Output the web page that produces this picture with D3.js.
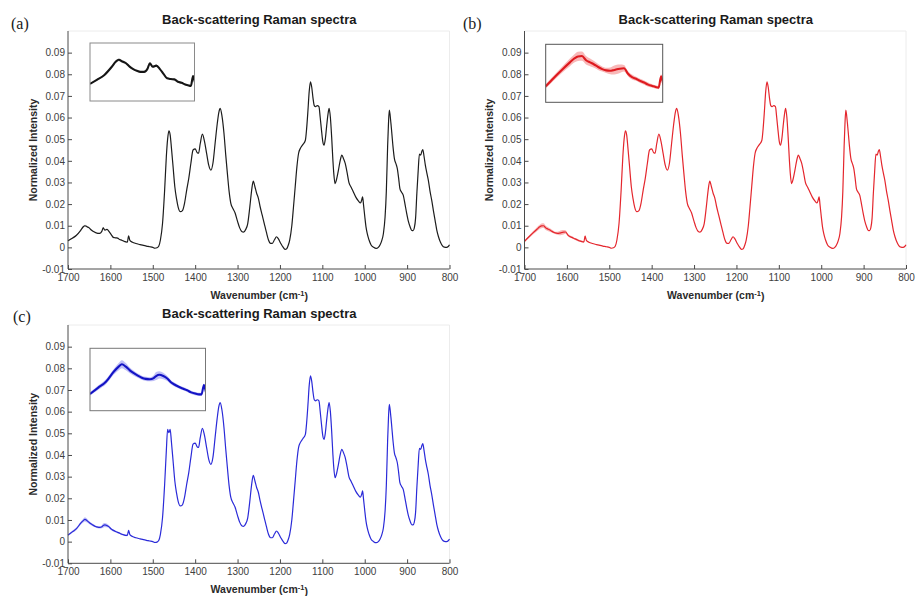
<!DOCTYPE html>
<html>
<head>
<meta charset="utf-8">
<script src="https://cdn.jsdelivr.net/npm/d3@7"></script>
<style>
  html, body { margin: 0; padding: 0; background: #fff; }
  svg { display: block; }
</style>
</head>
<body>
<svg id="chart" width="916" height="596"></svg>
<script>
// ---------------- DATA ----------------
const xTicks = [1700, 1600, 1500, 1400, 1300, 1200, 1100, 1000, 900, 800];
const yTicks = [-0.01, 0, 0.01, 0.02, 0.03, 0.04, 0.05, 0.06, 0.07, 0.08, 0.09];
const yTickLabels = ["-0.01", "0", "0.01", "0.02", "0.03", "0.04", "0.05", "0.06", "0.07", "0.08", "0.09"];
const panelLabels = ["(a)", "(b)", "(c)"];
const titleText = "Back-scattering Raman spectra";

// Low-wavenumber region (shown in the insets) — mean and std per sample
const lowWn = [1700,1690,1680,1670,1664,1660,1655,1650,1645,1640,1635,1630,1625,1620,1617,1613,1608,1603,1598,1593,1588,1583,1578,1573,1568,1563,1560,1557];
const lowA  = [0.0030,0.0042,0.0056,0.0079,0.0095,0.0100,0.0095,0.0090,0.0080,0.0073,0.0068,0.0065,0.0065,0.0075,0.0090,0.0080,0.0083,0.0073,0.0059,0.0046,0.0044,0.0043,0.0036,0.0033,0.0028,0.0025,0.0024,0.0053];
const lowB  = [0.0028,0.0048,0.0067,0.0085,0.0095,0.0099,0.0100,0.0090,0.0085,0.0080,0.0074,0.0069,0.0066,0.0065,0.0066,0.0068,0.0070,0.0071,0.0058,0.0050,0.0046,0.0041,0.0037,0.0032,0.0029,0.0026,0.0025,0.0052];
const lowC  = [0.0030,0.0045,0.0060,0.0085,0.0097,0.0103,0.0097,0.0088,0.0081,0.0075,0.0070,0.0067,0.0066,0.0069,0.0074,0.0077,0.0074,0.0068,0.0058,0.0052,0.0047,0.0043,0.0039,0.0034,0.0031,0.0029,0.0029,0.0052];
const sdA   = [0.0002,0.0002,0.0002,0.0003,0.0004,0.0004,0.0004,0.0003,0.0003,0.0002,0.0002,0.0002,0.0002,0.0003,0.0004,0.0003,0.0003,0.0002,0.0002,0.0002,0.0002,0.0002,0.0002,0.0002,0.0002,0.0002,0.0002,0.0002];
const sdB   = [0.0005,0.0006,0.0007,0.0009,0.0010,0.0011,0.0011,0.0010,0.0009,0.0008,0.0007,0.0006,0.0006,0.0008,0.0010,0.0011,0.0010,0.0008,0.0006,0.0006,0.0005,0.0005,0.0005,0.0005,0.0004,0.0004,0.0004,0.0005];
const sdC   = [0.0004,0.0005,0.0006,0.0007,0.0009,0.0010,0.0009,0.0007,0.0006,0.0005,0.0005,0.0005,0.0005,0.0007,0.0010,0.0009,0.0008,0.0006,0.0005,0.0005,0.0004,0.0004,0.0004,0.0004,0.0004,0.0004,0.0004,0.0004];

// Rest of the spectrum [wavenumber, normalized intensity] (mean spectrum, panels a & b)
const spectrumHigh = [
 [1554,0.0032],[1548,0.0024],[1540,0.0018],[1530,0.0013],[1522,0.0009],[1515,0.0006],[1507,0.0003],[1500,0.0000],
 [1495,-0.0004],[1490,-0.0002],[1486,0.0005],[1482,0.0034],[1477,0.0110],[1472,0.0265],[1468,0.0420],[1465,0.0500],
 [1462,0.0538],[1459,0.0520],[1456,0.0460],[1452,0.0370],[1448,0.0280],[1444,0.0225],[1440,0.0185],[1435,0.0165],
 [1430,0.0170],[1425,0.0205],[1420,0.0265],[1415,0.0320],[1410,0.0390],[1405,0.0450],[1400,0.0455],[1395,0.0437],
 [1392,0.0435],[1388,0.0480],[1383,0.0523],[1378,0.0490],[1373,0.0434],[1368,0.0380],[1363,0.0357],[1358,0.0390],
 [1353,0.0480],[1348,0.0570],[1344,0.0625],[1341,0.0642],[1337,0.0610],[1332,0.0526],[1328,0.0430],[1324,0.0342],
 [1320,0.0260],[1316,0.0205],[1311,0.0180],[1306,0.0160],[1300,0.0120],[1295,0.0090],[1290,0.0073],[1286,0.0070],
 [1281,0.0082],[1276,0.0110],[1271,0.0188],[1267,0.0260],[1263,0.0306],[1259,0.0280],[1255,0.0250],[1251,0.0228],
 [1247,0.0190],[1242,0.0150],[1237,0.0110],[1232,0.0070],[1227,0.0034],[1222,0.0018],[1218,0.0018],[1213,0.0035],
 [1208,0.0049],[1204,0.0040],[1198,0.0018],[1193,0.0002],[1188,-0.0009],[1184,-0.0006],[1180,0.0012],[1177,0.0034],
 [1172,0.0100],[1168,0.0188],[1164,0.0280],[1160,0.0372],[1156,0.0435],[1152,0.0457],[1146,0.0475],[1140,0.0495],
 [1137,0.0550],[1134,0.0630],[1131,0.0720],[1128,0.0765],[1125,0.0740],[1122,0.0690],[1119,0.0655],[1116,0.0650],
 [1112,0.0655],[1108,0.0650],[1105,0.0600],[1102,0.0542],[1099,0.0490],[1096,0.0472],[1093,0.0500],[1090,0.0557],
 [1087,0.0610],[1084,0.0642],[1081,0.0600],[1078,0.0510],[1075,0.0400],[1073,0.0342],[1070,0.0295],[1067,0.0310],
 [1062,0.0357],[1058,0.0400],[1054,0.0426],[1050,0.0410],[1046,0.0388],[1042,0.0350],[1037,0.0298],[1032,0.0278],
 [1027,0.0257],[1021,0.0232],[1015,0.0215],[1010,0.0205],[1007,0.0220],[1005,0.0234],[1003,0.0200],[1000,0.0145],
 [997,0.0095],[994,0.0063],[990,0.0035],[985,0.0011],[979,0.0000],[973,-0.0005],[968,0.0000],[964,0.0011],
 [960,0.0030],[956,0.0063],[952,0.0140],[949,0.0260],[946,0.0465],[944,0.0570],[942,0.0634],[939,0.0590],
 [936,0.0526],[933,0.0460],[930,0.0410],[926,0.0385],[923,0.0363],[920,0.0320],[917,0.0272],[913,0.0255],
 [909,0.0240],[905,0.0200],[901,0.0157],[897,0.0120],[893,0.0095],[889,0.0078],[886,0.0077],[883,0.0090],
 [880,0.0135],[877,0.0250],[874,0.0350],[871,0.0431],[868,0.0426],[865,0.0445],[863,0.0452],[860,0.0420],
 [857,0.0380],[853,0.0340],[850,0.0311],[846,0.0260],[842,0.0218],[838,0.0170],[834,0.0125],[830,0.0080],
 [826,0.0049],[821,0.0022],[817,0.0008],[812,0.0001],[807,0.0000],[803,0.0004],[800,0.0012]
];
// Panel (c): the 1460 band top reads as a split peak
const peak1460C = [[1465,0.0518],[1462,0.0503],[1459,0.0518]];

// ---------------- LAYOUT ----------------
const svg = d3.select("#chart");
const FONT = "'Liberation Sans', Arial, Helvetica, sans-serif";

const panels = [
  { label: panelLabels[0], low: lowA, sd: sdA, override: [],
    left: 68, right: 449.5, top: 31, bottom: 269,
    labelPos: [11, 29], titleY: 24,
    inset: { x0: 90, x1: 194.5, y0: 43, y1: 101, yDomain: [-0.002, 0.0149] },
    line: "#1c1c1c", insetLine: "#151515", band: "#9a9a9a", bandOpacity: 0.5, insetBorder: "#8a8a8a" },
  { label: panelLabels[1], low: lowB, sd: sdB, override: [],
    left: 524.5, right: 906, top: 31, bottom: 269,
    labelPos: [463, 29], titleY: 24,
    inset: { x0: 545.7, x1: 662.7, y0: 44.3, y1: 102.3, yDomain: [-0.001, 0.0128] },
    line: "#e4262d", insetLine: "#de1a1f", band: "#f59a9a", bandOpacity: 0.7, insetBorder: "#555" },
  { label: panelLabels[2], low: lowC, sd: sdC, override: peak1460C,
    left: 68, right: 449.5, top: 325, bottom: 563.3,
    labelPos: [13, 322], titleY: 318,
    inset: { x0: 90, x1: 205.5, y0: 348.3, y1: 410.7, yDomain: [-0.0011, 0.0142] },
    line: "#2a2ad8", insetLine: "#1313c4", band: "#a4a4f4", bandOpacity: 0.7, insetBorder: "#777" }
];

panels.forEach((p, pi) => {
  const g = svg.append("g");
  const x = d3.scaleLinear().domain([1700, 800]).range([p.left, p.right]);
  const y = d3.scaleLinear().domain([-0.01, 0.1]).range([p.bottom, p.top]);

  const lowPts = lowWn.map((w, i) => ({ w, v: p.low[i], sd: p.sd[i] }));
  const ov = new Map(p.override.map(d => [d[0], d[1]]));
  const highPts = spectrumHigh.map(d => ({ w: d[0], v: ov.has(d[0]) ? ov.get(d[0]) : d[1], sd: 0 }));
  const all = lowPts.concat(highPts);

  g.append("path")
    .attr("d", `M${p.left},${p.top}H${p.right}V${p.bottom}`)
    .attr("fill", "none").attr("stroke", "#ececec").attr("stroke-width", 1);

  const area = d3.area().curve(d3.curveMonotoneX)
    .x(d => x(d.w)).y0(d => y(d.v - d.sd)).y1(d => y(d.v + d.sd));
  g.append("path").datum(lowPts.concat(highPts.slice(0, 1)))
    .attr("d", area).attr("fill", p.band).attr("opacity", p.bandOpacity);

  const line = d3.line().curve(d3.curveMonotoneX).x(d => x(d.w)).y(d => y(d.v));
  g.append("path").datum(all).attr("d", line)
    .attr("fill", "none").attr("stroke", p.line).attr("stroke-width", 1.2)
    .attr("stroke-linejoin", "round");

  const xAxis = d3.axisBottom(x).tickValues(xTicks).tickFormat(d3.format("d"))
    .tickSizeInner(-4).tickSizeOuter(0).tickPadding(5);
  const gx = g.append("g").attr("transform", `translate(0,${p.bottom})`).call(xAxis);
  const yAxis = d3.axisLeft(y).tickValues(yTicks).tickFormat((d, i) => yTickLabels[i])
    .tickSizeInner(-4).tickSizeOuter(0).tickPadding(3);
  const gy = g.append("g").attr("transform", `translate(${p.left},0)`).call(yAxis);
  [gx, gy].forEach(ax => {
    ax.select(".domain").attr("stroke", "#4a4a4a").attr("stroke-width", 1);
    ax.selectAll(".tick line").attr("stroke", "#4a4a4a");
    ax.selectAll(".tick text").attr("fill", "#404040").style("font-family", FONT).style("font-size", "10px");
  });
  gy.select(".domain").attr("d", `M0,${p.bottom}V${p.top}`);
  gx.select(".domain").attr("d", `M${p.left},0H${p.right}`);

  const cx = (p.left + p.right) / 2 + 0.5;
  g.append("text").attr("x", cx).attr("y", p.titleY).attr("text-anchor", "middle")
    .style("font-family", FONT).style("font-weight", "bold").style("font-size", "13px")
    .attr("fill", "#1a1a1a").text(titleText);
  g.append("text").attr("x", p.labelPos[0]).attr("y", p.labelPos[1])
    .style("font-family", "'Liberation Serif', 'Times New Roman', serif").style("font-size", "16px")
    .attr("fill", "#1a1a1a").text(p.label);
  const xl = g.append("text").attr("x", cx).attr("y", p.bottom + 30).attr("text-anchor", "middle")
    .style("font-family", FONT).style("font-weight", "bold").style("font-size", "10.5px").attr("fill", "#2a2a2a");
  xl.append("tspan").text("Wavenumber (cm");
  xl.append("tspan").attr("dy", "-0.45em").style("font-size", "7.5px").text("-1");
  xl.append("tspan").attr("dy", "0.45em").text(")");
  g.append("text")
    .attr("transform", `translate(${p.left - 35},${(p.top + p.bottom) / 2}) rotate(-90)`)
    .attr("text-anchor", "middle").attr("dy", "0.35em")
    .style("font-family", FONT).style("font-weight", "bold").style("font-size", "10.5px").attr("fill", "#2a2a2a")
    .text("Normalized Intensity");

  // ---- inset ----
  const ins = p.inset;
  const ix = d3.scaleLinear().domain([1700, 1555]).range([ins.x0, ins.x1]);
  const iy = d3.scaleLinear().domain(ins.yDomain).range([ins.y1, ins.y0]);
  const clipId = "clip" + pi;
  g.append("clipPath").attr("id", clipId).append("rect")
    .attr("x", ins.x0).attr("y", ins.y0).attr("width", ins.x1 - ins.x0).attr("height", ins.y1 - ins.y0);
  g.append("rect").attr("x", ins.x0).attr("y", ins.y0).attr("width", ins.x1 - ins.x0).attr("height", ins.y1 - ins.y0)
    .attr("fill", "#fff");
  const insPts = lowPts.concat(highPts.slice(0, 2));
  const ig = g.append("g").attr("clip-path", `url(#${clipId})`);
  ig.append("path").datum(insPts)
    .attr("d", d3.area().curve(d3.curveMonotoneX).x(d => ix(d.w)).y0(d => iy(d.v - d.sd)).y1(d => iy(d.v + d.sd)))
    .attr("fill", p.band).attr("opacity", p.bandOpacity);
  ig.append("path").datum(insPts)
    .attr("d", d3.line().curve(d3.curveMonotoneX).x(d => ix(d.w)).y(d => iy(d.v)))
    .attr("fill", "none").attr("stroke", p.insetLine).attr("stroke-width", 2.1).attr("stroke-linejoin", "round");
  g.append("rect").attr("x", ins.x0).attr("y", ins.y0).attr("width", ins.x1 - ins.x0).attr("height", ins.y1 - ins.y0)
    .attr("fill", "none").attr("stroke", p.insetBorder).attr("stroke-width", 1);
});
</script>
</body>
</html>
